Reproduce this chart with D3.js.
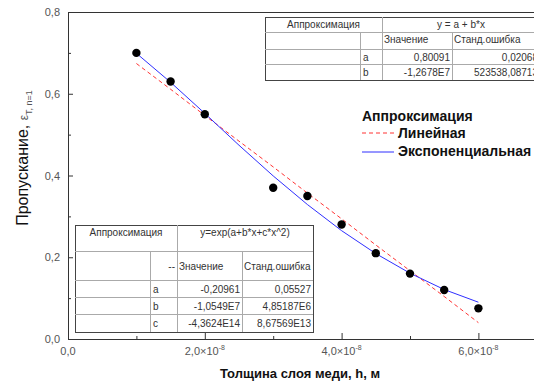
<!DOCTYPE html>
<html>
<head>
<meta charset="utf-8">
<script src="https://cdn.jsdelivr.net/npm/d3@7"></script>
<style>
body{margin:0;background:#fff;}
svg{display:block;font-family:"Liberation Sans",Arial,sans-serif;}
</style>
</head>
<body>
<svg></svg>
<script>
var width = 534;
var height = 381;
var margin = {top:12,bottom:42,left:68,right:-6};

// measured points (thickness in units of 1e-8 m)
var thickness = [1, 1.5, 2, 3, 3.5, 4, 4.5, 5, 5.5, 6];
var transmission = [0.70, 0.63, 0.55, 0.37, 0.35, 0.28, 0.21, 0.16, 0.12, 0.075];

// fitted curves
var fitX = [1, 1.5, 2, 2.5, 3, 3.5, 4, 4.5, 5, 5.5, 6];
var linearFit = [0.674, 0.611, 0.547, 0.484, 0.421, 0.357, 0.294, 0.230, 0.167, 0.104, 0.040];
var expFit = [0.699, 0.628, 0.552, 0.474, 0.399, 0.329, 0.265, 0.209, 0.161, 0.121, 0.090];

var xTicks = [0, 2, 4, 6];
var yTicks = [0, 0.2, 0.4, 0.6, 0.8];

var linTable = [["a", "0,80091", "0,02068"], ["b", "-1,2678E7", "523538,08713"]];
var expTable = [["a", "-0,20961", "0,05527"], ["b", "-1,0549E7", "4,85187E6"], ["c", "-4,3624E14", "8,67569E13"]];

var svg = d3.select("svg").attr("width", width).attr("height", height);

var xScale = d3.scaleLinear().domain([0, 1]).range([margin.left, margin.left + 68.4]);
var yScale = d3.scaleLinear().domain([0, 0.8]).range([height - margin.bottom, margin.top]);

var fmt = function(v){ return d3.format(".1f")(v).replace(".", ","); };

// frame
svg.append("path")
  .attr("d", "M" + (width + 5) + "," + yScale(0.8) + "H" + xScale(0) + "V" + yScale(0) + "H" + (width + 5))
  .attr("fill", "none").attr("stroke", "#333").attr("stroke-width", 1)
  .attr("shape-rendering", "crispEdges");

// y axis (ticks inward)
var yAxis = d3.axisRight(yScale).tickValues(yTicks).tickSize(5).tickFormat("");
svg.append("g").attr("transform", "translate(" + xScale(0) + ",0)").call(yAxis)
  .call(g => g.select(".domain").remove())
  .call(g => g.selectAll("line").attr("stroke", "#333"));
svg.append("g").attr("transform", "translate(" + xScale(0) + ",0)")
  .call(d3.axisRight(yScale).tickValues([0.1, 0.3, 0.5, 0.7]).tickSize(3).tickFormat(""))
  .call(g => g.select(".domain").remove())
  .call(g => g.selectAll("line").attr("stroke", "#333"));
svg.selectAll(".ylab").data(yTicks).enter().append("text")
  .attr("x", xScale(0) - 8).attr("y", d => yScale(d) + 4)
  .attr("text-anchor", "end").attr("font-size", 11).attr("fill", "#555")
  .text(fmt);

// x axis (ticks inward)
svg.append("g").attr("transform", "translate(0," + yScale(0) + ")")
  .call(d3.axisTop(xScale).tickValues(xTicks).tickSize(6).tickFormat(""))
  .call(g => g.select(".domain").remove())
  .call(g => g.selectAll("line").attr("stroke", "#333"));
svg.append("g").attr("transform", "translate(0," + yScale(0) + ")")
  .call(d3.axisTop(xScale).tickValues([1, 3, 5, 7]).tickSize(3).tickFormat(""))
  .call(g => g.select(".domain").remove())
  .call(g => g.selectAll("line").attr("stroke", "#333"));
var xl = svg.selectAll(".xlab").data(xTicks).enter().append("text")
  .attr("x", d => xScale(d)).attr("y", yScale(0) + 16)
  .attr("text-anchor", "middle").attr("font-size", 11).attr("fill", "#555");
xl.append("tspan").text(d => d === 0 ? "0,0" : fmt(d) + "×10");
xl.filter(d => d !== 0).append("tspan").attr("dy", -5).attr("font-size", 7).text("-8");

// axis titles
svg.append("text").attr("x", 300).attr("y", 378).attr("text-anchor", "middle")
  .attr("font-size", 13).attr("font-weight", "bold").attr("fill", "#111")
  .text("Толщина слоя меди, h, м");
var yt = svg.append("text").attr("transform", "translate(28,158) rotate(-90)")
  .attr("text-anchor", "middle").attr("font-size", 16).attr("fill", "#111");
yt.append("tspan").text("Пропускание, ");
yt.append("tspan").attr("font-size", 12).attr("fill", "#555").text("ε");
yt.append("tspan").attr("font-size", 9).attr("dy", 4).attr("fill", "#555").text("T, n=1");

// fit lines
var lin = fitX.map((x, i) => [x, linearFit[i]]);
var ex = fitX.map((x, i) => [x, expFit[i]]);
var line = d3.line().x(d => xScale(d[0])).y(d => yScale(d[1]));
svg.append("path").attr("d", line(lin)).attr("fill", "none")
  .attr("stroke", "#ff3333").attr("stroke-width", 1).attr("stroke-dasharray", "4,3");
svg.append("path").attr("d", line(ex)).attr("fill", "none")
  .attr("stroke", "#2f2fff").attr("stroke-width", 1);

// points
svg.selectAll(".pt").data(thickness).enter().append("circle")
  .attr("cx", d => xScale(d)).attr("cy", (d, i) => yScale(transmission[i]))
  .attr("r", 4.2).attr("fill", "#000");

// legend
var lg = svg.append("g").attr("font-size", 14).attr("font-weight", "bold").attr("fill", "#111");
lg.append("text").attr("x", 362).attr("y", 121).text("Аппроксимация");
lg.append("line").attr("x1", 362).attr("x2", 394).attr("y1", 133).attr("y2", 133)
  .attr("stroke", "#ff3333").attr("stroke-dasharray", "4,3");
lg.append("text").attr("x", 398).attr("y", 138).text("Линейная");
lg.append("line").attr("x1", 362).attr("x2", 394).attr("y1", 152).attr("y2", 152)
  .attr("stroke", "#2f2fff");
lg.append("text").attr("x", 398).attr("y", 156).text("Экспоненциальная");

// tables
function table(x0, cols, rows, title, formula, dash){
  // cols: x of [left, letter col, value col, error col, right]; rows: y of [top, h1, h2, r1..., bottom]
  var g = svg.append("g").attr("font-size", 10).attr("fill", "#333");
  g.append("rect").attr("x", cols[0]).attr("y", rows[0])
    .attr("width", cols[4] - cols[0]).attr("height", rows[rows.length - 1] - rows[0])
    .attr("fill", "#fff").attr("stroke", "#444").attr("shape-rendering", "crispEdges");
  var ls = g.append("g").attr("stroke", "#aaa").attr("shape-rendering", "crispEdges");
  rows.slice(1, -1).forEach(y => ls.append("line").attr("x1", cols[0]).attr("x2", cols[4]).attr("y1", y).attr("y2", y));
  ls.append("line").attr("x1", cols[2]).attr("x2", cols[2]).attr("y1", rows[0]).attr("y2", rows[rows.length - 1]);
  [cols[1], cols[3]].forEach(x => ls.append("line").attr("x1", x).attr("x2", x).attr("y1", rows[1]).attr("y2", rows[rows.length - 1]));
  g.append("text").attr("x", (cols[0] + cols[2]) / 2).attr("y", rows[0] + 11).attr("text-anchor", "middle").text(title);
  g.append("text").attr("x", (cols[2] + cols[4]) / 2).attr("y", rows[0] + 11).attr("text-anchor", "middle").text(formula);
  var hy = dash ? (rows[1] + rows[2]) / 2 + 4 : rows[1] + 11;
  if (dash) g.append("text").attr("x", cols[2] - 2).attr("y", hy).attr("text-anchor", "end").text("--");
  g.append("text").attr("x", cols[2] + 2).attr("y", hy).text("Значение");
  g.append("text").attr("x", cols[3] + 2).attr("y", hy).text("Станд.ошибка");
  x0.forEach((r, i) => {
    var y = (rows[i + 2] + rows[i + 3]) / 2 + 4;
    g.append("text").attr("x", cols[1] + 3).attr("y", y).text(r[0]);
    g.append("text").attr("x", cols[3] - 2).attr("y", y).attr("text-anchor", "end").text(r[1]);
    g.append("text").attr("x", cols[4] - 2).attr("y", y).attr("text-anchor", "end").text(r[2]);
  });
}
table(linTable, [265, 360, 382, 452, 540], [17, 32, 49, 64, 80], "Аппроксимация", "y = a + b*x", false);
table(expTable, [75, 150, 177, 242, 313], [225, 251, 280, 297, 314, 332], "Аппроксимация", "y=exp(a+b*x+c*x^2)", true);
</script>
</body>
</html>
